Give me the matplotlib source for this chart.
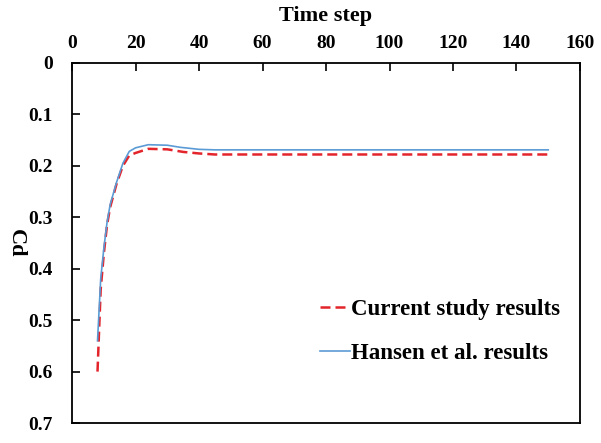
import matplotlib.pyplot as plt
import numpy as np

# values (time step vs Cd)
t_hansen = [8, 9, 10, 11, 12, 14, 16, 18, 20, 24, 30, 34, 40, 45, 150]
cd_hansen = [0.54, 0.42, 0.36, 0.31, 0.275, 0.232, 0.195, 0.172, 0.165,
             0.159, 0.160, 0.164, 0.168, 0.169, 0.169]

t_current = [8, 9, 10, 11, 12, 14, 16, 18, 20, 24, 30, 35, 40, 45, 150]
cd_current = [0.60, 0.44, 0.37, 0.315, 0.28, 0.235, 0.20, 0.18, 0.175,
              0.167, 0.168, 0.173, 0.176, 0.178, 0.178]

x_ticks = [0, 20, 40, 60, 80, 100, 120, 140, 160]
y_ticks = [0, 0.1, 0.2, 0.3, 0.4, 0.5, 0.6, 0.7]
y_labels = ["0", "0.1", "0.2", "0.3", "0.4", "0.5", "0.6", "0.7"]

plt.rcParams['font.family'] = ['Liberation Serif', 'DejaVu Serif']
plt.rcParams['font.weight'] = 'bold'

fig = plt.figure(figsize=(6.01, 4.43), dpi=100)
ax = fig.add_axes([0.12, 0.045, 0.845, 0.813])

ax.plot(t_current, cd_current, color='#e3242b', lw=1.8, ls=(0, (4, 2)),
        label='Current study results')
ax.plot(t_hansen, cd_hansen, color='#5b9bd5', lw=1.2,
        label='Hansen et al. results')

ax.set_xlim(0, 160)
ax.set_ylim(0.7, 0)
ax.set_xticks(x_ticks)
ax.set_yticks(y_ticks)
ax.set_yticklabels(y_labels)
ax.xaxis.tick_top()
ax.xaxis.set_label_position('top')
ax.tick_params(direction='in', length=6, width=1.2, labelsize=14)
ax.tick_params(axis='x', pad=8)
ax.tick_params(axis='y', pad=14)
for s in ax.spines.values():
    s.set_linewidth(1.3)

ax.set_xlabel('Time step', fontsize=16, fontweight='bold', labelpad=10)
ax.set_ylabel('Cd', fontsize=16, fontweight='bold', rotation=-90, labelpad=16)

leg = ax.legend(loc='center left', bbox_to_anchor=(0.488, 0.255), frameon=False,
                prop={'size': 16.5, 'weight': 'bold'}, handlelength=1.3,
                handletextpad=0.05, labelspacing=1.0, borderpad=0,
                borderaxespad=0)

fig.savefig('out.png', dpi=100)
